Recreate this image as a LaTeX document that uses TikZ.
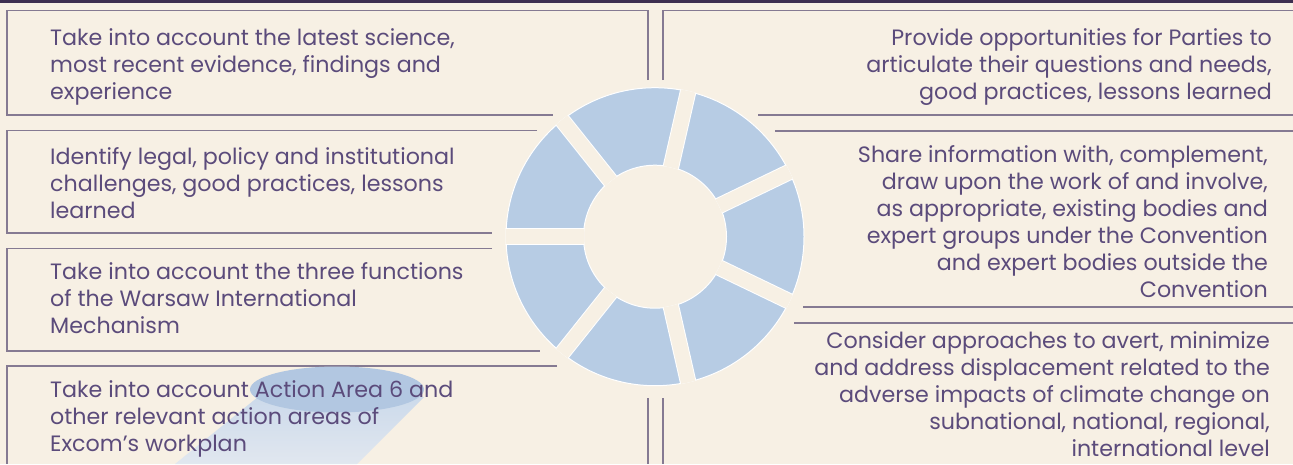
\documentclass[tikz,border=0pt]{standalone}
\usepackage{fontspec}
\setmainfont{Poppins}
\definecolor{bgcream}{HTML}{F7F0E4}
\definecolor{barpurple}{HTML}{3D2E4F}
\definecolor{framegray}{HTML}{857A92}
\definecolor{textpurple}{HTML}{5B4B7B}
\definecolor{ringblue}{HTML}{B7CCE4}
\definecolor{beamtop}{HTML}{CCDAEB}
\definecolor{beambottom}{HTML}{E1E7EF}
\definecolor{spotblue}{HTML}{B2C7E1}
\tikzset{
  frame/.style={draw=framegray, line width=1.1pt},
  lefttext/.style={anchor=base west, align=left, inner sep=0pt, text=textpurple, font=\fontsize{22.2}{27}\selectfont},
  righttext/.style={anchor=base east, align=right, inner sep=0pt, text=textpurple, font=\fontsize{22.2}{27}\selectfont}
}
\begin{document}
\begin{tikzpicture}[x=1pt, y=-1pt]
  \useasboundingbox (0,0) rectangle (1293,464);
  \fill[bgcream] (0,0) rectangle (1293,464);
  \fill[barpurple] (0,0) rectangle (1293,2.5);
  % frames, left column
  \draw[frame] (648,80) -- (648,10.5) -- (7,10.5) -- (7,115) -- (553,115);
  \draw[frame] (537,130.5) -- (7,130.5) -- (7,233) -- (492,233);
  \draw[frame] (492,248.5) -- (7,248.5) -- (7,351) -- (540,351);
  \draw[frame] (557,366) -- (7,366) -- (7,464);
  \draw[frame] (648,398) -- (648,464);
  % frames, right column
  \draw[frame] (663,80) -- (663,10.5) -- (1293,10.5);
  \draw[frame] (758,115) -- (1293,115);
  \draw[frame] (775,131) -- (1293,131);
  \draw[frame] (803,307) -- (1293,307);
  \draw[frame] (794,323) -- (1293,323);
  \draw[frame] (663,398) -- (663,464);
  % ring of seven parts
  \coordinate (hub) at (655,236.7);
  \filldraw[fill=ringblue, draw=white, line width=1pt, even odd rule] (hub) circle (149) (hub) circle (71.5);
  \begin{scope}[even odd rule]
    \clip (hub) circle (149.5) (hub) circle (71);
    \foreach \a in {0,...,6} {
      \draw[white, line width=16.5pt] (hub) -- ++(180-\a*360/7:160);
      \draw[bgcream, line width=14.5pt] (hub) -- ++(180-\a*360/7:160);
    }
  \end{scope}
  % spotlight on the last box
  \shade[top color=beamtop, bottom color=beambottom] (258,397) -- (424,397) -- (357,464) -- (175,464) -- cycle;
  \fill[spotblue] (337,389.5) ellipse (87 and 23);
  % texts (anchored at the last line)
  \node[lefttext] (science) at (50,99) {Take into account the latest science,\\most recent evidence, findings and\\experience};
  \node[lefttext] (legal) at (50,218) {Identify legal, policy and institutional\\challenges, good practices, lessons\\learned};
  \node[lefttext] (functions) at (50,333) {Take into account the three functions\\of the Warsaw International\\Mechanism};
  \node[lefttext] (actionarea) at (50,451) {Take into account Action Area 6 and\\other relevant action areas of\\Excom’s workplan};
  \node[righttext] (opportunities) at (1272,99) {Provide opportunities for Parties to\\articulate their questions and needs,\\good practices, lessons learned};
  \node[righttext] (share) at (1268,297) {Share information with, complement,\\draw upon the work of and involve,\\as appropriate, existing bodies and\\expert groups under the Convention\\and expert bodies outside the\\Convention};
  \node[righttext] (displacement) at (1270,456) {Consider approaches to avert, minimize\\and address displacement related to the\\adverse impacts of climate change on\\subnational, national, regional,\\international level};
\end{tikzpicture}
\end{document}
